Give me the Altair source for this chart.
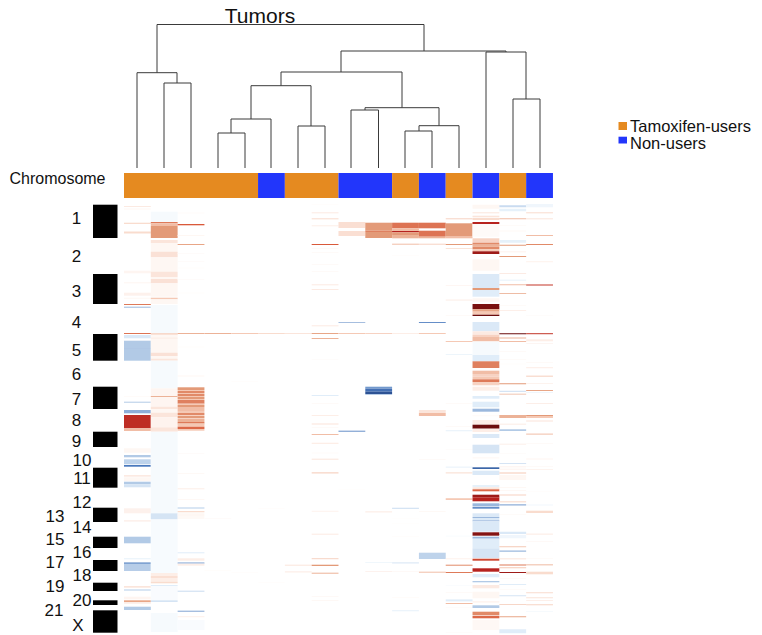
import altair as alt
import pandas as pd

# ---------- sample annotation ----------
first_edge = 124.0
sample_w = 26.81
groups = ["T", "T", "T", "T", "T", "N", "T", "T", "N", "N", "T", "N", "T", "N", "T", "N"]
group_names = {"T": "Tamoxifen-users", "N": "Non-users"}
group_colors = {"T": "#e58a20", "N": "#2236fb"}

# ---------- copy-number segments per tumor: (start, end, log-ratio) ----------
s0 = [(206,207,.12),(208.7,209.3,.08),(222.7,224,.2),(231.5,233.5,.2),(270.7,273.3,.06),(282.3,283.3,.06),
      (292.7,295.7,.08),(297.7,298.7,.05),(304,305,.6),(306.7,307.7,-.4),(333,334,.62),(335,338.3,-.12),
      (340.7,348,-.3),(348,348.7,-.45),(348.7,360.7,-.3),(396.5,397,.05),(401.7,402.7,-.3),(410,413.3,-.45),
      (415,428.3,.82),(428.3,431,.35),(448.3,452.7,.05),(455,457.3,-.3),(459.3,464.3,-.25),(465,466.7,-.7),
      (475,476.7,.12),(477.3,481,.05),(481.7,484.3,-.3),(484.3,487.3,-.15),(508.3,513.3,.08),(520,521.7,.08),
      (536.7,543.3,-.3),(558.3,559.3,-.08),(562.3,564,-.5),(564,571,-.28),(586,587.7,.15),(589.3,590.7,-.2),
      (596.7,599.3,.06),(600.3,602.3,.45),(602.3,604,.08),(606.7,610,-.3)]
s1 = [(211.7,222,-.03),(222,223.3,.6),(223.3,226,.35),(226,238,.5),(240,243.3,.15),(243.3,251.7,.05),
      (251.7,257.3,.17),(257.3,271.7,.05),(271.7,277.3,.15),(277.3,279,.05),(279,283.3,.17),(283.3,296.7,.05),
      (297.7,299.3,.3),(299.3,304,.05),(305,333.3,-.03),(333.3,334.7,.3),(334.7,337.7,.05),(337.7,338.7,.15),
      (338.7,352.7,.05),(352.7,356,.17),(356,358.7,.05),(358.7,360.7,.15),(360.7,388.3,-.03),(388.3,396,.06),
      (396,397,.4),(397,406.7,.06),(406.7,409.3,.15),(409.3,412.7,.05),(412.7,417.3,.15),(417.3,427.3,.07),
      (427.3,431.7,.15),(431.7,513.3,-.03),(513.3,519.3,-.15),(520,573,-.025),(573,576,.1),(576,578,.18),
      (578,581.7,.1),(581.7,583.3,.2),(585,586,-.1),(586,600.3,-.02),(600.3,602,-.15),(613,632,-.03)]
s2 = [(212.7,213.3,.05),(224,225.3,.7),(235,236,.05),(244,245,.45),(253.3,254,.03),(261,261.7,.03),(267.7,268.3,.03),
      (279.3,280,.03),(292.7,293.3,.03),(333,334,.4),(346.7,347.3,.03),(375.7,376.3,.08),
      (387.3,390,.5),(390,391,.3),(391,393,.55),(393,394,.3),(394,396,.55),(396,397,.3),(397,399,.5),(399,400,.3),
      (400,403.7,.58),(403.7,405,.3),(405,407,.5),(407,411,.35),(411,413,.3),(413,415,.55),(415,416,.25),(416,418,.5),
      (418,419,.25),(419,422,.4),(422,423.3,.6),(423.3,424.7,.4),(424.7,426.7,.3),(426.7,429,.65),(429,430.7,.3),
      (453,453.7,.03),(473,473.7,.05),(488.3,489.3,.1),(499,499.7,.06),(507.3,508.7,-.2),(511,512.3,.2),(513.3,516.7,.05),
      (517.3,518.7,.05),(552.3,553.3,-.1),(558.3,560.7,.1),(562.3,563.7,-.4),(563.7,565.7,.1),(590.7,591.7,-.2),
      (610.7,611.7,-.5),(616,617.3,.07),(620,630,-.02)]
s3 = [(333,334,.4),(518,518.7,.03),(570,570.7,.02)]
s4 = [(333,334,.3),(381,381.6,.02),(572,572.6,.02)]
s5 = [(333,334,.2),(508,508.6,.02),(582,582.6,.02)]
s6 = [(333,334,.15),(564.7,565.7,.15),(571.4,572.4,.12)]
s7 = [(204.5,205,.03),(212.3,213.3,.12),(218.3,219.3,.2),(225.3,226.3,.1),(244,245,.7),(248,248.6,.05),(252,252.6,.05),
      (264,264.6,.05),(271,271.6,.05),(284.3,285.3,.12),(289,290,.12),(325.3,326.3,.12),(333,334,.45),(338,339,.4),
      (359,359.6,.03),(395,396,-.1),(403,403.6,.05),(415,416,.1),(423,425,.08),(427,427.6,.05),(434,435,.35),
      (442.7,444,.1),(452.7,453.3,.05),(458.7,459.7,.15),(472.4,473.4,.3),(510.7,512,.06),(533.7,534.7,.12),
      (558.2,559.2,.25),(564.7,566,.5),(572.7,573.7,.4),(596.4,597,.06),(600,600.7,.06)]
s8 = [(222,228,.18),(231,236,.18),(322.3,323,-.5),(333,334,.3),(430.7,431.7,-.6),(489,489.5,.02)]
s9 = [(222.7,230.7,.5),(230.7,232,.58),(232,238,.5),(333,334,.25),(386.7,388.7,-.55),(388.7,391.7,-.75),
      (391.7,394,-.9),(394,394.7,-.4),(511.4,512.4,.12),(562.2,562.8,-.08),(571.4,572,.12)]
s10 = [(222.7,228.3,.62),(228.3,231,.35),(231,232.3,.85),(232.3,235,.5),(235,238.3,.4),(243.7,244.7,.35),(255,255.5,.03),
       (333,334,.1),(507.7,509,-.15),(518,518.5,.02),(523,523.5,.02),(536.4,537,.02),(562.4,563.4,-.15),(571.4,572,.06),
       (597,597.5,.04),(610.4,611.2,-.1)]
s11 = [(222.7,228.3,.62),(230.7,236.7,.62),(236.7,238.3,.4),(243.7,244.7,.25),(322,323,-.6),(333,334,.3),(410,413,.15),
       (413,416,.35),(459,459.6,.05),(511.4,512,.06),(552.7,559,-.25),(571.7,572.7,.35)]
s12 = [(218.3,219.3,.25),(223.3,236,.5),(236,238.3,.35),(244,245,.5),(248,248.8,.2),(285,285.6,.08),(299.7,300.4,.15),
       (315.4,316,.05),(341,342,.3),(354,354.7,-.08),(403,403.6,.05),(426.4,427,.05),(430.4,431.2,-.1),(449,449.6,.03),
       (466.7,467.5,-.1),(472.4,473.4,.2),(498.2,500,.3),(535.7,536.4,-.03),(558.4,559.2,.1),(564.7,565.7,.55),
       (572,573,.6),(585.4,586,-.03),(592.4,593,.05),(599.4,601.4,-.1),(603,604,.35),(607,607.6,.03),(632.4,633,.03)]
s13 = [(204.7,208.7,.05),(212.3,213.3,.15),(215.7,217.3,.15),(218,220,.2),(222,224,.85),(224,236.7,.03),(238.3,242.7,.25),
       (242.7,244.7,.55),(244.7,246.7,.4),(246.7,249.3,.55),(249.3,251.3,.3),(251.3,254,.9),(259.3,270.7,.05),
       (274,288,-.12),(288,290,.5),(290,296.7,-.1),(298.3,301.7,.05),(304,309.3,.97),(309.3,311.7,.45),(311.7,314.7,.3),
       (314.7,316,1),(322,331.3,-.12),(331.3,334.7,.12),(334.7,337,.25),(337,341.3,.35),(341.7,355,-.03),(355,361.3,-.1),
       (361.3,368,.58),(370.7,374,.35),(374,376.7,.25),(376.7,379.3,.3),(379.3,382,.6),(382,385.3,.25),(386.7,390.7,.1),
       (396,398.7,-.1),(401.7,407.3,-.1),(408.7,411.7,-.4),(415.5,416.2,.05),(420,424.7,.1),(424.7,428.7,1),(428.7,432,.1),
       (434,438,-.12),(444.7,453.3,-.15),(457.4,458.4,.05),(467.3,469,-.8),(470.7,475,-.12),(485,487.3,-.08),(487.3,489.3,.15),
       (489.3,491.3,.65),(494.7,497.3,.9),(497.3,501.3,.85),(503.3,506,-.4),(506.7,508.7,-.6),(513.3,517,-.12),(517,518,-.4),
       (518,520.3,-.12),(520.3,521.3,-.4),(521.3,531.7,-.12),(532.3,535.7,.95),(536.7,538.7,-.4),(538.7,548.3,-.1),
       (548.3,558,-.15),(558.7,560.7,.75),(568.3,571.7,.85),(574,577.3,-.1),(581,582.3,-.3),(585,588.3,.12),(591.7,598.3,.05),
       (601.4,602.4,.1),(605.3,608,-.3),(611.7,615,.55),(615.7,618.3,.65),(620,630,.04)]
s14 = [(205.3,207.3,-.2),(208.7,211.3,-.08),(218.3,219.3,.35),(225.2,225.8,.05),(230.7,231.3,.08),(240,242.7,-.08),
       (244.7,245.7,.5),(251.5,252.2,.1),(256,257,.5),(273,273.8,.15),(279.7,280.4,-.1),(284.3,285.2,.35),(293.3,294,.45),
       (305,305.6,.05),(310,310.8,.12),(333.3,334.3,1),(337.6,338.6,.4),(341,342,.35),(351.4,352,.06),(359,359.6,.05),
       (363.7,364.3,.03),(383.3,384.3,.5),(390.7,392,-.15),(393.7,394.5,.4),(415,418,.4),(423.7,424.4,.15),(429.3,431,-.3),
       (443.7,444.5,.12),(453,453.6,.03),(463,463.8,-.2),(466.4,467.2,.1),(468.7,469.4,.1),(472.4,473.4,.3),(475,480,.05),
       (487.4,488,.08),(490.4,491,.08),(494.6,495.5,.25),(501.4,502.3,.3),(504.3,505.6,-.45),(514,514.6,.05),(531.7,534,-.12),
       (535,538.3,-.05),(546.3,547.3,.3),(550.5,551.8,-.4),(558.4,559.2,.2),(564.4,565.4,.6),(567.3,568.3,.3),(572,573,.9),
       (578,578.6,.06),(584,585,-.1),(589.2,589.8,.05),(595.3,596.2,-.15),(604,604.8,.3),(616.3,617.3,.45),(629.3,633.3,-.1)]
s15 = [(204,207.3,-.05),(212.3,213.3,.2),(218.3,219.3,.15),(235,236,.35),(244,245,.55),(261.4,262.2,.1),(284.5,285.5,.8),
       (315,315.6,.03),(333.2,334.2,.8),(339.3,341.3,.1),(343,343.7,.08),(362.4,363,.05),(367.3,368.2,.12),(375.7,376.6,.3),
       (383,383.7,.1),(390,391,.45),(392,393,-.05),(403,403.8,.12),(415,416,.5),(416,418,.3),(420.6,421.4,.2),(433.6,434.6,.35),
       (443,443.6,.05),(458.7,459.3,.1),(466.4,467,.05),(469,469.7,.1),(491,491.5,.03),(504.7,505.3,-.08),(510.7,513,.2),
       (533.7,534.5,.15),(541.4,542,.06),(558.4,559,.04),(564.4,565.3,.4),(571.7,574.3,.2),(592.4,593.2,.25),(597.4,598.2,.2),
       (600.4,601,.15),(604.4,605.2,.3),(611,611.6,-.05)]
samples = [s0, s1, s2, s3, s4, s5, s6, s7, s8, s9, s10, s11, s12, s13, s14, s15]

# ---------- ideogram ----------
chrom_blocks = [(204.7,238),(274,304),(334,360.7),(386.7,409),(431.7,447),(467.7,487.7),(507.7,522),
                (536.7,548),(560,571),(582.7,591),(600.3,605),(610.3,632.7)]
chrom_labels = ["1","2","3","4","5","6","7","8","9","10","11","12","13","14","15","16","17","18","19","20","21","X"]
chrom_label_x = [76.5,76.5,76.5,76.5,76.5,76.5,76.5,76.5,76.5,82,82,82,55,82,55,82,55,82,55,82,54,78]
chrom_label_y = [219,257,292,323,351,375,400,421,442,461,479,503,517,528,540,553,563,576,587,601,611,626]

# ---------- dendrogram: (left child x, right child x, merge height, left child top, right child top) ----------
dendro = [(157,424,24.5,72.7,51),
          (137,177,72.7,168,83),(164,191,83,168,168),
          (341,506,51,72,52),(486,526,52,168,99),(513,540,99,168,168),
          (281,402,72,85.7,107.7),(251,311,85.7,119,126),(231,271,119,133,168),(218,245,133,168,168),(298,325,126,168,168),
          (365,439,107.7,110,125.7),(351,378.5,110,168,168),(419,459,125.7,131,168),(405,432,131,168,168)]

# ---------- tables ----------
heat = pd.DataFrame([
    {"x0": first_edge + i * sample_w, "x1": first_edge + (i + 1) * sample_w, "y0": a, "y1": b, "v": v}
    for i, s in enumerate(samples) for a, b, v in s])
runs = []
for i, g in enumerate(groups):
    if runs and runs[-1]["g"] == group_names[g]:
        runs[-1]["x1"] = first_edge + (i + 1) * sample_w
    else:
        runs.append({"x0": first_edge + i * sample_w, "x1": first_edge + (i + 1) * sample_w,
                     "y0": 173, "y1": 198, "g": group_names[g]})
annot = pd.DataFrame(runs)
ideo = pd.DataFrame([{"x0": 93, "x1": 117.5, "y0": a, "y1": b} for a, b in chrom_blocks])
segs = []
for l, r, h, tl, tr in dendro:
    segs += [dict(x0=l, x1=r, y0=h, y1=h), dict(x0=l, x1=l, y0=h, y1=tl), dict(x0=r, x1=r, y0=h, y1=tr)]
segs = pd.DataFrame(segs)
clabels = pd.DataFrame({"t": chrom_labels, "x": chrom_label_x, "y": chrom_label_y})
legend_sq = pd.DataFrame([dict(x0=618.5, x1=627, y0=122, y1=130, g="Tamoxifen-users"),
                          dict(x0=618.5, x1=627, y0=136.7, y1=143.5, g="Non-users")])
legend_tx = pd.DataFrame([dict(t="Tamoxifen-users", x=630, y=126.5), dict(t="Non-users", x=630, y=144)])

W, H = 746, 627
X = alt.Scale(domain=[8, 8 + W], nice=False, zero=False)
Y = alt.Scale(domain=[8 + H, 8], nice=False, zero=False)
GC = alt.Scale(domain=list(group_names.values()), range=[group_colors["T"], group_colors["N"]])
VC = alt.Scale(domain=[-1, -.7, -.4, -.1, 0, .1, .3, .5, .7, .85, 1],
               range=["#1f3f7f", "#4a79bd", "#9bb8dd", "#e0edf9", "#ffffff", "#fdeee7", "#f5c9b5",
                      "#e39a78", "#d9593a", "#b7221e", "#6b0d0d"], interpolate="rgb")


def xy(data):
    return dict(x=alt.X("x0:Q", scale=X, axis=None), x2="x1:Q",
                y=alt.Y("y0:Q", scale=Y, axis=None), y2="y1:Q")


def txt(data, size, **kw):
    return alt.Chart(data).mark_text(font="Liberation Sans", fontSize=size, color="#111111",
                                     baseline="middle", **kw).encode(
        x=alt.X("x:Q", scale=X, axis=None), y=alt.Y("y:Q", scale=Y, axis=None), text="t:N")


layers = [
    alt.Chart(heat).mark_rect(strokeWidth=0).encode(
        **xy(heat), color=alt.Color("v:Q", scale=VC, legend=None)),
    alt.Chart(annot).mark_rect(strokeWidth=0).encode(
        **xy(annot), color=alt.Color("g:N", scale=GC, legend=None)),
    alt.Chart(ideo).mark_rect(color="#000000", strokeWidth=0).encode(**xy(ideo)),
    alt.Chart(segs).mark_rule(color="#3a3a3a", strokeWidth=1).encode(**xy(segs)),
    alt.Chart(legend_sq).mark_rect(strokeWidth=0).encode(
        **xy(legend_sq), color=alt.Color("g:N", scale=GC, legend=None)),
    txt(legend_tx, 16.5, align="left"),
    txt(clabels, 17, align="center"),
    txt(pd.DataFrame([dict(t="Chromosome", x=105.5, y=179)]), 16, align="right"),
    txt(pd.DataFrame([dict(t="Tumors", x=260, y=16.5)]), 21, align="center"),
]

chart = alt.layer(*layers).resolve_scale(color="independent").properties(
    width=W, height=H, padding=0, autosize=alt.AutoSizeParams(type="none"),
    background="#ffffff"
).configure_view(stroke=None)

chart.save("out.html", embed_options={"renderer": "svg", "actions": False})
